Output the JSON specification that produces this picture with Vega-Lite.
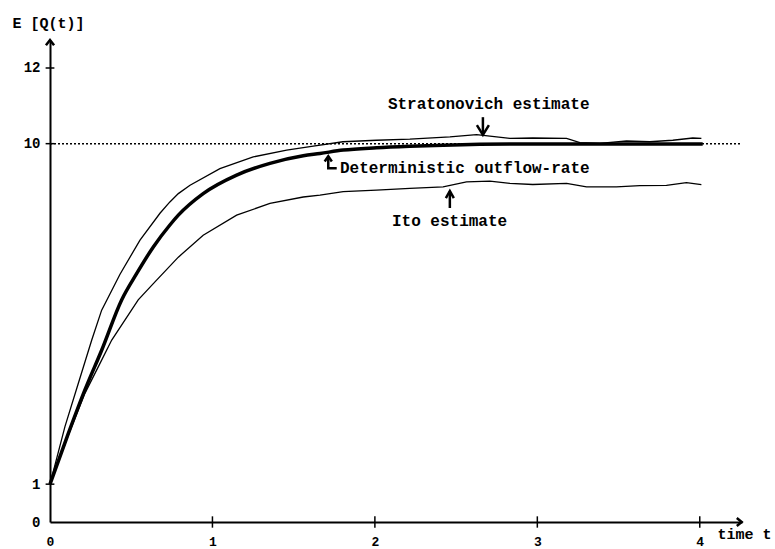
{
  "$schema": "https://vega.github.io/schema/vega-lite/v6.json",
  "width": 692,
  "height": 482,
  "autosize": "none",
  "padding": {"left": 50, "top": 40, "right": 33, "bottom": 27},
  "background": "white",
  "config": {
    "view": {"stroke": null},
    "font": "Liberation Mono",
    "axis": {
      "grid": false,
      "ticks": false,
      "domainColor": "black",
      "domainWidth": 2,
      "labelColor": "black",
      "labelFont": "Liberation Mono",
      "labelFontWeight": "bold",
      "labelFontSize": 14,
      "titleColor": "black",
      "titleFont": "Liberation Mono",
      "titleFontWeight": "bold",
      "titleFontSize": 15
    }
  },
  "datasets": {
    "curves": [
      {"s": "det", "t": 0, "q": 1},
      {"s": "det", "t": 0.113, "q": 2.34},
      {"s": "det", "t": 0.215, "q": 3.49},
      {"s": "det", "t": 0.318, "q": 4.54},
      {"s": "det", "t": 0.441, "q": 5.87},
      {"s": "det", "t": 0.534, "q": 6.57},
      {"s": "det", "t": 0.636, "q": 7.27},
      {"s": "det", "t": 0.738, "q": 7.85},
      {"s": "det", "t": 0.79, "q": 8.11},
      {"s": "det", "t": 0.943, "q": 8.68},
      {"s": "det", "t": 1.149, "q": 9.17},
      {"s": "det", "t": 1.354, "q": 9.48},
      {"s": "det", "t": 1.559, "q": 9.68},
      {"s": "det", "t": 1.662, "q": 9.74},
      {"s": "det", "t": 1.805, "q": 9.83},
      {"s": "det", "t": 2.01, "q": 9.89},
      {"s": "det", "t": 2.215, "q": 9.93},
      {"s": "det", "t": 2.42, "q": 9.96},
      {"s": "det", "t": 2.831, "q": 9.99},
      {"s": "det", "t": 4.018, "q": 9.99},
      {"s": "strat", "t": 0, "q": 1},
      {"s": "strat", "t": 0.092, "q": 2.52},
      {"s": "strat", "t": 0.174, "q": 3.66},
      {"s": "strat", "t": 0.257, "q": 4.81},
      {"s": "strat", "t": 0.318, "q": 5.6},
      {"s": "strat", "t": 0.431, "q": 6.55},
      {"s": "strat", "t": 0.554, "q": 7.45},
      {"s": "strat", "t": 0.677, "q": 8.16},
      {"s": "strat", "t": 0.738, "q": 8.46},
      {"s": "strat", "t": 0.79, "q": 8.68},
      {"s": "strat", "t": 0.862, "q": 8.9},
      {"s": "strat", "t": 1.046, "q": 9.34},
      {"s": "strat", "t": 1.251, "q": 9.65},
      {"s": "strat", "t": 1.457, "q": 9.83},
      {"s": "strat", "t": 1.6, "q": 9.92},
      {"s": "strat", "t": 1.803, "q": 10.05},
      {"s": "strat", "t": 2.01, "q": 10.09},
      {"s": "strat", "t": 2.215, "q": 10.12},
      {"s": "strat", "t": 2.462, "q": 10.18},
      {"s": "strat", "t": 2.626, "q": 10.24},
      {"s": "strat", "t": 2.749, "q": 10.18},
      {"s": "strat", "t": 2.831, "q": 10.14},
      {"s": "strat", "t": 2.972, "q": 10.15},
      {"s": "strat", "t": 3.18, "q": 10.14},
      {"s": "strat", "t": 3.262, "q": 10.03},
      {"s": "strat", "t": 3.385, "q": 10.01},
      {"s": "strat", "t": 3.549, "q": 10.07},
      {"s": "strat", "t": 3.692, "q": 10.05},
      {"s": "strat", "t": 3.834, "q": 10.09},
      {"s": "strat", "t": 3.957, "q": 10.15},
      {"s": "strat", "t": 4.01, "q": 10.14},
      {"s": "ito", "t": 0, "q": 1},
      {"s": "ito", "t": 0.113, "q": 2.3},
      {"s": "ito", "t": 0.215, "q": 3.4},
      {"s": "ito", "t": 0.297, "q": 4.1},
      {"s": "ito", "t": 0.38, "q": 4.81},
      {"s": "ito", "t": 0.543, "q": 5.87},
      {"s": "ito", "t": 0.636, "q": 6.3},
      {"s": "ito", "t": 0.79, "q": 7.0},
      {"s": "ito", "t": 0.943, "q": 7.58},
      {"s": "ito", "t": 1.149, "q": 8.11},
      {"s": "ito", "t": 1.354, "q": 8.42},
      {"s": "ito", "t": 1.559, "q": 8.59},
      {"s": "ito", "t": 1.662, "q": 8.64},
      {"s": "ito", "t": 1.805, "q": 8.73},
      {"s": "ito", "t": 2.01, "q": 8.77},
      {"s": "ito", "t": 2.215, "q": 8.82},
      {"s": "ito", "t": 2.42, "q": 8.86},
      {"s": "ito", "t": 2.564, "q": 8.99},
      {"s": "ito", "t": 2.708, "q": 9.01},
      {"s": "ito", "t": 2.831, "q": 8.95},
      {"s": "ito", "t": 2.972, "q": 8.92},
      {"s": "ito", "t": 3.18, "q": 8.95},
      {"s": "ito", "t": 3.303, "q": 8.86},
      {"s": "ito", "t": 3.487, "q": 8.86},
      {"s": "ito", "t": 3.631, "q": 8.89},
      {"s": "ito", "t": 3.795, "q": 8.9},
      {"s": "ito", "t": 3.918, "q": 8.97},
      {"s": "ito", "t": 4.01, "q": 8.92}
    ],
    "arrows": [
      {"g": "s1", "t": 2.665, "q": 10.7, "o": 0},
      {"g": "s1", "t": 2.665, "q": 10.24, "o": 1},
      {"g": "s2", "t": 2.628, "q": 10.49, "o": 0},
      {"g": "s2", "t": 2.665, "q": 10.23, "o": 1},
      {"g": "s2", "t": 2.702, "q": 10.49, "o": 2},
      {"g": "d1", "t": 1.765, "q": 9.35, "o": 0},
      {"g": "d1", "t": 1.713, "q": 9.35, "o": 1},
      {"g": "d1", "t": 1.713, "q": 9.66, "o": 2},
      {"g": "d2", "t": 1.691, "q": 9.53, "o": 0},
      {"g": "d2", "t": 1.713, "q": 9.67, "o": 1},
      {"g": "d2", "t": 1.735, "q": 9.53, "o": 2},
      {"g": "i1", "t": 2.4615, "q": 8.3, "o": 0},
      {"g": "i1", "t": 2.4615, "q": 8.74, "o": 1},
      {"g": "i2", "t": 2.437, "q": 8.56, "o": 0},
      {"g": "i2", "t": 2.4615, "q": 8.75, "o": 1},
      {"g": "i2", "t": 2.486, "q": 8.56, "o": 2},
      {"g": "ya", "t": -0.025, "q": 12.6, "o": 0},
      {"g": "ya", "t": 0, "q": 12.74, "o": 1},
      {"g": "ya", "t": 0.025, "q": 12.6, "o": 2},
      {"g": "xa", "t": 4.228, "q": 0.105, "o": 0},
      {"g": "xa", "t": 4.258, "q": 0, "o": 1},
      {"g": "xa", "t": 4.228, "q": -0.105, "o": 2}
    ],
    "ticks": [
      {"g": "x1", "t": 1, "q": -0.15, "o": 0},
      {"g": "x1", "t": 1, "q": 0.15, "o": 1},
      {"g": "x2", "t": 2, "q": -0.15, "o": 0},
      {"g": "x2", "t": 2, "q": 0.15, "o": 1},
      {"g": "x3", "t": 3, "q": -0.15, "o": 0},
      {"g": "x3", "t": 3, "q": 0.15, "o": 1},
      {"g": "x4", "t": 4, "q": -0.15, "o": 0},
      {"g": "x4", "t": 4, "q": 0.15, "o": 1},
      {"g": "y1", "t": -0.027, "q": 1, "o": 0},
      {"g": "y1", "t": 0.027, "q": 1, "o": 1},
      {"g": "y10", "t": -0.027, "q": 10, "o": 0},
      {"g": "y10", "t": 0.027, "q": 10, "o": 1},
      {"g": "y12", "t": -0.027, "q": 12, "o": 0},
      {"g": "y12", "t": 0.027, "q": 12, "o": 1}
    ],
    "labels": [
      {"label": "Stratonovich estimate", "t": 2.08, "q": 11.04},
      {"label": "Deterministic outflow-rate", "t": 1.785, "q": 9.36},
      {"label": "Ito estimate", "t": 2.105, "q": 7.95}
    ],
    "steady": [{"t0": 0, "t1": 4.25, "q": 10}]
  },
  "encoding": {
    "x": {
      "field": "t",
      "type": "quantitative",
      "scale": {"domain": [0, 4.26], "nice": false, "zero": false},
      "axis": {
        "values": [0, 1, 2, 3, 4],
        "format": "d",
        "labelFontSize": 13,
        "labelBaseline": "alphabetic",
        "labelPadding": 23,
        "labelFlush": false,
        "title": "time t",
        "titleAngle": 0,
        "titleAlign": "left",
        "titleBaseline": "middle",
        "titleAnchor": "start",
        "titleX": 667,
        "titleY": 11
      }
    },
    "y": {
      "field": "q",
      "type": "quantitative",
      "scale": {"domain": [0, 12.74], "nice": false, "zero": false},
      "axis": {
        "values": [0, 1, 10, 12],
        "format": "d",
        "labelPadding": 10,
        "labelFlush": false,
        "title": "E [Q(t)]",
        "titleAngle": 0,
        "titleAlign": "left",
        "titleBaseline": "middle",
        "titleAnchor": "start",
        "titleX": -38,
        "titleY": -18
      }
    }
  },
  "layer": [
    {
      "data": {"name": "steady"},
      "mark": {"type": "rule", "color": "black", "strokeWidth": 1.5, "strokeDash": [2, 2]},
      "encoding": {
        "x": {"field": "t0", "type": "quantitative"},
        "x2": {"field": "t1"},
        "y": {"field": "q", "type": "quantitative"}
      }
    },
    {
      "data": {"name": "curves"},
      "transform": [{"filter": "datum.s !== 'det'"}],
      "mark": {"type": "line", "color": "black", "strokeWidth": 1.3},
      "encoding": {"detail": {"field": "s"}}
    },
    {
      "data": {"name": "curves"},
      "transform": [{"filter": "datum.s === 'det'"}],
      "mark": {"type": "line", "color": "black", "strokeWidth": 3.5, "interpolate": "monotone"},
      "encoding": {}
    },
    {
      "data": {"name": "arrows"},
      "mark": {"type": "line", "color": "black", "strokeWidth": 2.5, "strokeJoin": "miter"},
      "encoding": {"detail": {"field": "g"}, "order": {"field": "o"}}
    },
    {
      "data": {"name": "ticks"},
      "mark": {"type": "line", "color": "black", "strokeWidth": 1.5},
      "encoding": {"detail": {"field": "g"}, "order": {"field": "o"}}
    },
    {
      "data": {"name": "labels"},
      "mark": {"type": "text", "align": "left", "baseline": "middle", "font": "Liberation Mono", "fontWeight": "bold", "fontSize": 16, "color": "black"},
      "encoding": {"text": {"field": "label"}}
    }
  ]
}
